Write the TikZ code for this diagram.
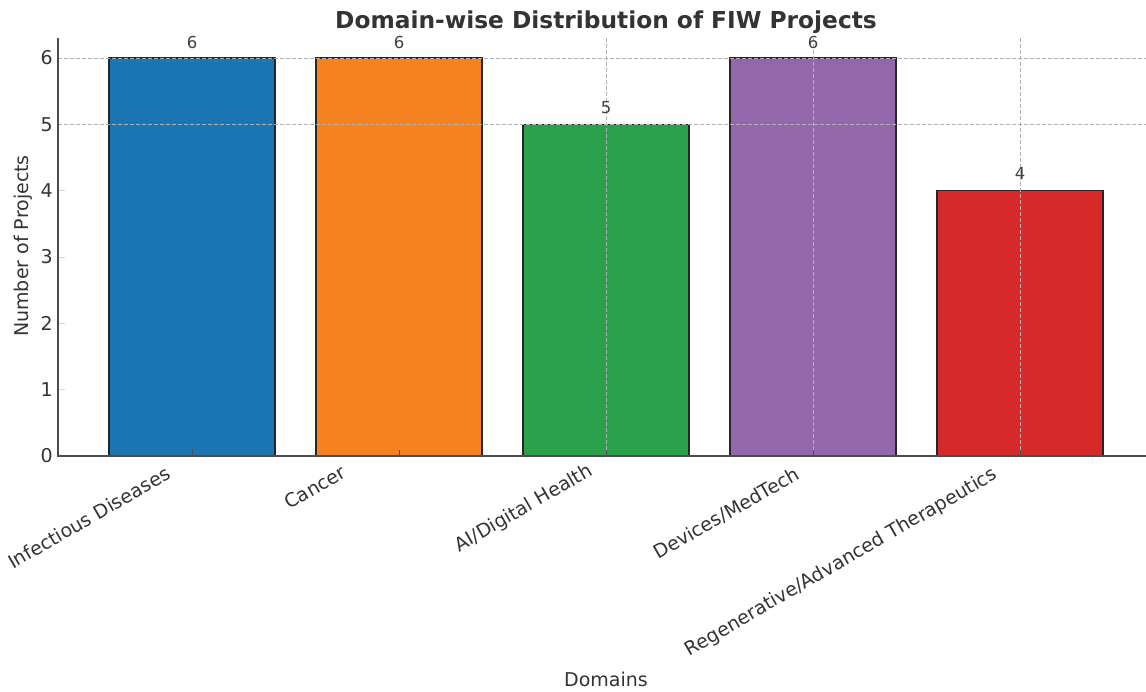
\documentclass[tikz,border=0pt]{standalone}
\usepackage{fontspec}
\setmainfont{DejaVu Sans}
\begin{document}
\begin{tikzpicture}[x=1pt,y=-1pt,
  txt/.style={inner sep=0pt,text=black!80},
  ticklbl/.style={txt,font=\fontsize{19}{22}\selectfont},
  vallbl/.style={txt,font=\fontsize{16.5}{19}\selectfont,text=black!75},
  bar/.style={draw=black!85,line width=1.3pt},
  grid/.style={draw=black!30,line width=0.9pt,dash pattern=on 4pt off 2pt},
  spine/.style={draw=black!70,line width=1.4pt},
  ystub/.style={draw=black!15,line width=1pt},
  xstub/.style={draw=black!70,line width=1pt}]
\definecolor{cblue}{HTML}{1B75B3}
\definecolor{corange}{HTML}{F5821F}
\definecolor{cgreen}{HTML}{2AA14A}
\definecolor{cpurple}{HTML}{9367AB}
\definecolor{cred}{HTML}{D7282A}
\useasboundingbox[fill=white] (0,0) rectangle (1146,691);
% bars
\filldraw[bar,fill=cblue]   (109,456) rectangle (275,58);
\filldraw[bar,fill=corange] (316,456) rectangle (482,58);
\filldraw[bar,fill=cgreen]  (523,456) rectangle (689,124.3);
\filldraw[bar,fill=cpurple] (730,456) rectangle (896,58);
\filldraw[bar,fill=cred]    (937,456) rectangle (1103,190.7);
% grid
\draw[grid] (58,58) -- (1146,58);
\draw[grid] (58,124.3) -- (1146,124.3);
\draw[grid] (606,38) -- (606,456);
\draw[grid] (813,38) -- (813,456);
\draw[grid] (1020,38) -- (1020,456);
% y stubs
\foreach \yy in {190.7,257,323.3,389.7}{\draw[ystub] (59,\yy) -- (65,\yy);}
% x stubs
\foreach \xx in {192,399,606,813,1020}{\draw[xstub] (\xx,456) -- (\xx,450);}
% spines
\draw[spine] (58,38) -- (58,456) -- (1146,456);
% y tick labels
\node[ticklbl,anchor=east] (y0) at (53,456) {0};
\node[ticklbl,anchor=east] (y1) at (53,389.7) {1};
\node[ticklbl,anchor=east] (y2) at (53,323.3) {2};
\node[ticklbl,anchor=east] (y3) at (53,257) {3};
\node[ticklbl,anchor=east] (y4) at (53,190.7) {4};
\node[ticklbl,anchor=east] (y5) at (53,124.3) {5};
\node[ticklbl,anchor=east] (y6) at (53,58) {6};
% value labels
\node[vallbl] (v1) at (192,42.5) {6};
\node[vallbl] (v2) at (399,42.5) {6};
\node[vallbl] (v3) at (606,108) {5};
\node[vallbl] (v4) at (813,42.5) {6};
\node[vallbl] (v5) at (1020,173.5) {4};
% x tick labels
\node[ticklbl,rotate=30] (x1) at (89,517.5) {Infectious Diseases};
\node[ticklbl,rotate=30] (x2) at (315,487) {Cancer};
\node[ticklbl,rotate=30] (x3) at (524,509) {AI/Digital Health};
\node[ticklbl,rotate=30] (x4) at (726.5,513.5) {Devices/MedTech};
\node[ticklbl,rotate=30] (x5) at (841.5,562.5) {Regenerative/Advanced Therapeutics};
% axis labels
\node[ticklbl,rotate=90] (ylab) at (23,246) {Number of Projects};
\node[ticklbl] (xlab) at (606,679) {Domains};
\node[txt,anchor=base,font=\fontsize{23.3}{27}\selectfont\bfseries] (title) at (606,28.5) {Domain-wise Distribution of FIW Projects};
\end{tikzpicture}
\end{document}
